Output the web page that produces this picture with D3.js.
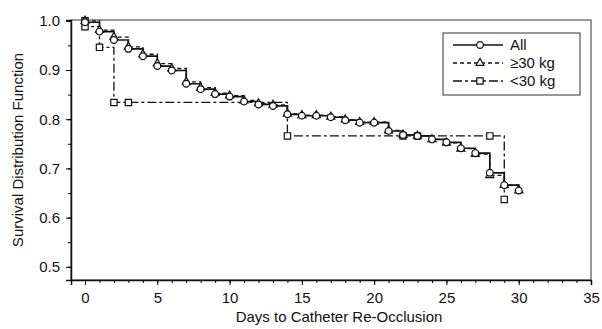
<!DOCTYPE html>
<html>
<head>
<meta charset="utf-8">
<script src="https://cdn.jsdelivr.net/npm/d3@7"></script>
<style>
  body { margin: 0; background: #fff; }
  svg text { font-family: Arial, "Liberation Sans", sans-serif; fill: #111; }
</style>
</head>
<body>
<div id="chart"></div>
<script>
// days with events, one entry per day
const days = d3.range(0, 31);
const allSurv = [0.997, 0.978, 0.961, 0.943, 0.928, 0.908, 0.899, 0.872, 0.861, 0.851, 0.846,
  0.836, 0.830, 0.827, 0.810, 0.807, 0.807, 0.804, 0.798, 0.793, 0.793,
  0.776, 0.768, 0.766, 0.759, 0.753, 0.741, 0.731, 0.691, 0.666, 0.655];
const heavySurv = [1.0, 0.981, 0.967, 0.947, 0.932, 0.913, 0.903, 0.876, 0.864, 0.853, 0.848,
  0.838, 0.832, 0.829, 0.811, 0.808, 0.808, 0.805, 0.799, 0.794, 0.794,
  0.777, 0.768, 0.766, 0.759, 0.752, 0.740, 0.729, 0.686, 0.666, 0.655];
// <30 kg group only has a few points
const lightDays = [0, 0, 1, 2, 3, 14, 22, 23, 28, 29];
const lightSurv = [1.0, 0.988, 0.946, 0.834, 0.834, 0.766, 0.766, 0.766, 0.766, 0.637];

const xTicks = [0, 5, 10, 15, 20, 25, 30, 35];
const yTicks = [0.5, 0.6, 0.7, 0.8, 0.9, 1.0];
const legendLabels = ["All", "\u226530 kg", "<30 kg"];

const W = 602, H = 329;
const plotL = 71, plotR = 591, plotT = 20, plotB = 280;

const svg = d3.select("#chart").append("svg")
  .attr("width", W).attr("height", H);

const x = d3.scaleLinear().domain([-0.97, 35]).range([plotL, plotR]);
const y = d3.scaleLinear().domain([0.4732, 1.0016]).range([plotB, plotT]);

// frame
svg.append("rect")
  .attr("x", plotL).attr("y", plotT)
  .attr("width", plotR - plotL).attr("height", plotB - plotT)
  .attr("fill", "none").attr("stroke", "#333").attr("stroke-width", 1);

// x axis, minor ticks every day
svg.append("g")
  .attr("transform", "translate(0," + plotB + ")")
  .call(d3.axisBottom(x).tickValues(d3.range(0, 36)).tickSize(3).tickFormat(""))
  .call(g => g.select(".domain").remove());
const xAxis = svg.append("g")
  .attr("transform", "translate(0," + plotB + ")")
  .call(d3.axisBottom(x).tickValues(xTicks).tickSize(5).tickPadding(7).tickFormat(d3.format("d")));
xAxis.select(".domain").attr("stroke", "#111").attr("stroke-width", 1.5);
xAxis.selectAll("text").style("font-size", "15px");

// y axis, minor ticks every 0.05
svg.append("g")
  .attr("transform", "translate(" + plotL + ",0)")
  .call(d3.axisLeft(y).tickValues(d3.range(0.5, 1.001, 0.05)).tickSize(3).tickFormat(""))
  .call(g => g.select(".domain").remove());
const yAxis = svg.append("g")
  .attr("transform", "translate(" + plotL + ",0)")
  .call(d3.axisLeft(y).tickValues(yTicks).tickSize(5).tickPadding(6).tickFormat(d3.format(".1f")));
yAxis.select(".domain").attr("stroke", "#111").attr("stroke-width", 1.5);
yAxis.selectAll("text").style("font-size", "15px");

// axis titles
svg.append("text")
  .attr("x", 339).attr("y", 322)
  .attr("text-anchor", "middle")
  .style("font-size", "15px")
  .text("Days to Catheter Re-Occlusion");
svg.append("text")
  .attr("transform", "translate(23,150) rotate(-90)")
  .attr("text-anchor", "middle")
  .style("font-size", "15px")
  .text("Survival Distribution Function");

const line = d3.line()
  .x(d => x(d[0]))
  .y(d => y(d[1]))
  .curve(d3.curveStepAfter);

const series = [
  { name: "light", pts: lightDays.map((d, i) => [d, lightSurv[i]]), dash: "9,3,3,3", width: 1.3, marker: "square" },
  { name: "heavy", pts: days.map((d, i) => [d, heavySurv[i]]), dash: "4,3", width: 1.3, marker: "triangle" },
  { name: "all", pts: days.map((d, i) => [d, allSurv[i]]), dash: null, width: 1.7, marker: "circle" }
];

const symbolFor = {
  circle: d3.symbol().type(d3.symbolCircle).size(36),
  square: d3.symbol().type(d3.symbolSquare).size(40),
  triangle: d3.symbol().type(d3.symbolTriangle).size(28)
};

series.forEach(s => {
  svg.append("path")
    .datum(s.pts)
    .attr("d", line)
    .attr("fill", "none")
    .attr("stroke", "#111")
    .attr("stroke-width", s.width)
    .attr("stroke-dasharray", s.dash);
});
series.forEach(s => {
  svg.append("g").selectAll("path")
    .data(s.pts)
    .enter().append("path")
    .attr("transform", d => "translate(" + x(d[0]) + "," + y(d[1]) + ")")
    .attr("d", symbolFor[s.marker])
    .attr("fill", "#fff")
    .attr("stroke", "#111")
    .attr("stroke-width", 1.2);
});

// legend
const lg = svg.append("g");
lg.append("rect")
  .attr("x", 443).attr("y", 33).attr("width", 137).attr("height", 62)
  .attr("fill", "#fff").attr("stroke", "#333").attr("stroke-width", 1);
const legendStyle = [series[2], series[1], series[0]];
legendLabels.forEach((lab, i) => {
  const ly = 45 + i * 18;
  const s = legendStyle[i];
  lg.append("line")
    .attr("x1", 453).attr("x2", 503).attr("y1", ly).attr("y2", ly)
    .attr("stroke", "#111").attr("stroke-width", s.width)
    .attr("stroke-dasharray", s.dash);
  lg.append("path")
    .attr("transform", "translate(480," + ly + ")")
    .attr("d", symbolFor[s.marker])
    .attr("fill", "#fff").attr("stroke", "#111").attr("stroke-width", 1.2);
  lg.append("text")
    .attr("x", 510).attr("y", ly + 5)
    .style("font-size", "15px")
    .text(lab);
});
</script>
</body>
</html>
